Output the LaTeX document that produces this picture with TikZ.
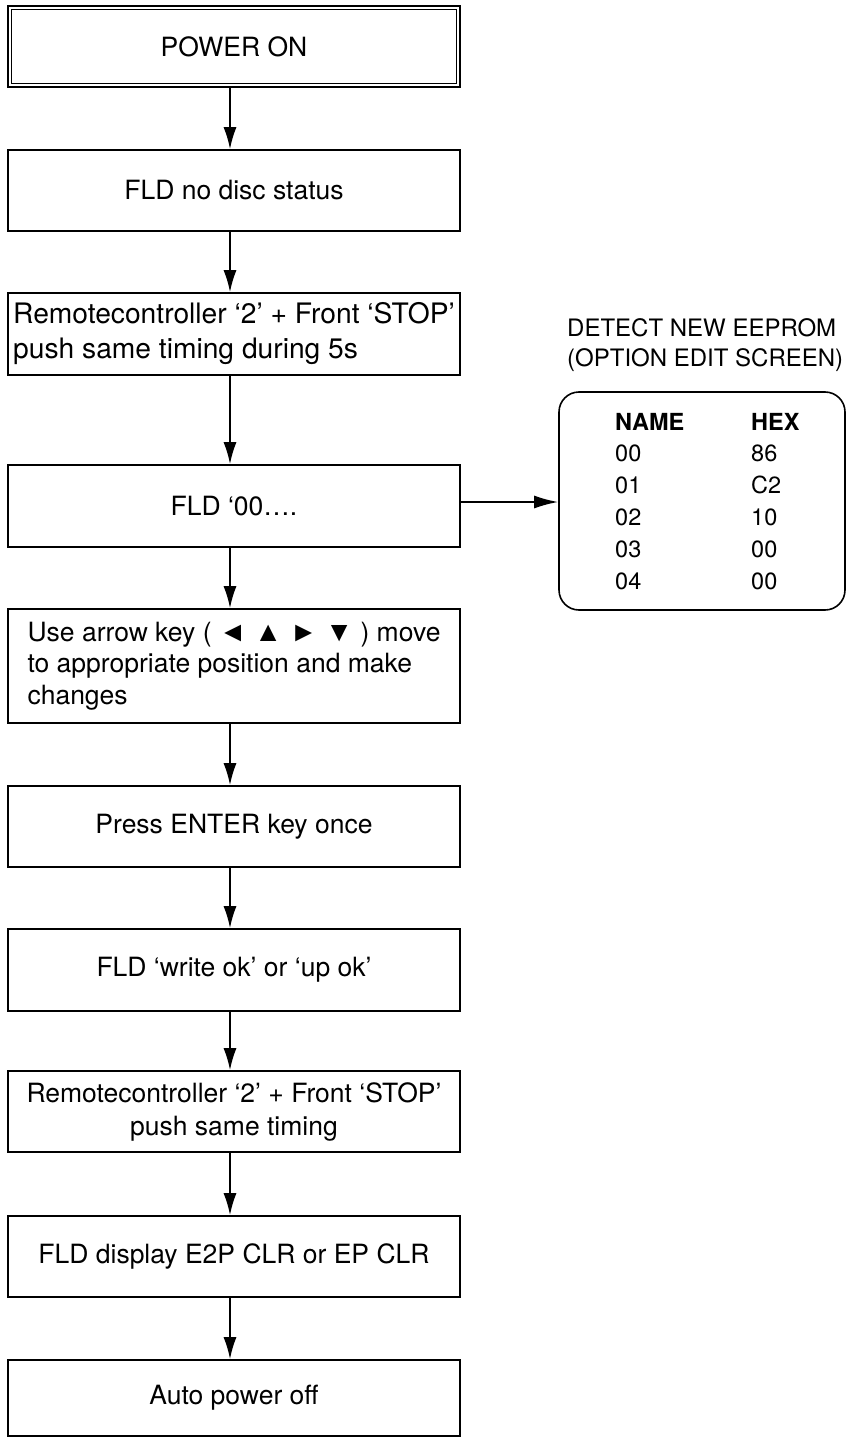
\documentclass[tikz,border=0pt]{standalone}
\usepackage{fontspec}
\setmainfont{TeX Gyre Heros}
\newfontfamily\symfont{Liberation Sans}
\usetikzlibrary{arrows.meta}
\begin{document}
\begin{tikzpicture}[x=1pt,y=-1pt,
  box/.style={draw, line width=1.6pt, minimum width=452pt, inner sep=0pt,
    font=\fontsize{26.5}{33}\selectfont, align=center},
  flow/.style={line width=1.8pt, -{Latex[length=22pt,width=13pt]}},
  tab/.style={anchor=base west, inner sep=0pt, font=\fontsize{23.5}{28}\selectfont}]
\useasboundingbox (0,0) rectangle (846,1439);

\node[box, minimum height=81pt] (b1) at (234,46.5) {POWER ON};
\draw[line width=0.7pt] ([shift={(4,4)}]b1.north west) rectangle ([shift={(-4,-4)}]b1.south east);
\node[box, minimum height=81pt] (b2) at (234,190.5) {FLD no disc status};
\node[box, minimum height=82pt, align=left, font=\fontsize{28.2}{35}\selectfont] (b3) at (234,334) {Remotecontroller ‘2’ + Front ‘STOP’\\push same timing during 5s};
\node[box, minimum height=82pt] (b4) at (234,506) {FLD ‘00….};
\node[box, minimum height=114pt, align=left, font=\fontsize{26.5}{31.5}\selectfont] (b5) at (234,666) {Use arrow key ( {\symfont\fontsize{28}{31.5}\selectfont ◄ ▲ ► ▼} ) move\\to appropriate position and make\\changes};
\node[box, minimum height=81pt] (b6) at (234,826.5) {Press ENTER key once};
\node[box, minimum height=82pt] (b7) at (234,970) {FLD ‘write ok’ or ‘up ok’};
\node[box, minimum height=81pt] (b8) at (234,1111.5) {Remotecontroller ‘2’ + Front ‘STOP’\\push same timing};
\node[box, minimum height=81pt] (b9) at (234,1256.5) {FLD display E2P CLR or EP CLR};
\node[box, minimum height=76pt] (b10) at (234,1398) {Auto power off};

\foreach \a/\b in {b1/b2,b2/b3,b3/b4,b4/b5,b5/b6,b6/b7,b7/b8,b8/b9,b9/b10}
  \draw[flow] ([xshift=-4pt]\a.south) -- ([xshift=-4pt]\b.north);

\node[draw, line width=1.6pt, rounded corners=20pt, minimum width=286pt, minimum height=218pt, inner sep=0pt] (scr) at (702,501) {};
\draw[flow, -{Latex[length=24pt,width=13pt]}] ([yshift=4pt]b4.east) -- ([yshift=4pt]b4.east -| scr.west);

\node[tab, font=\fontsize{24}{28}\selectfont] (t1) at (567,336) {DETECT NEW EEPROM};
\node[tab, font=\fontsize{24}{28}\selectfont] (t2) at (567,366.5) {(OPTION EDIT SCREEN)};

\node[tab, font=\bfseries\fontsize{23.5}{28}\selectfont] (hn) at (615,430) {NAME};
\node[tab, font=\bfseries\fontsize{23.5}{28}\selectfont] (hh) at (751,430) {HEX};
\foreach \n/\v [count=\i] in {00/86,01/C2,02/10,03/00,04/00}{
  \node[tab] (n\i) at (615,430+31.8*\i) {\n};
  \node[tab] (v\i) at (751,430+31.8*\i) {\v};
}
\end{tikzpicture}
\end{document}
